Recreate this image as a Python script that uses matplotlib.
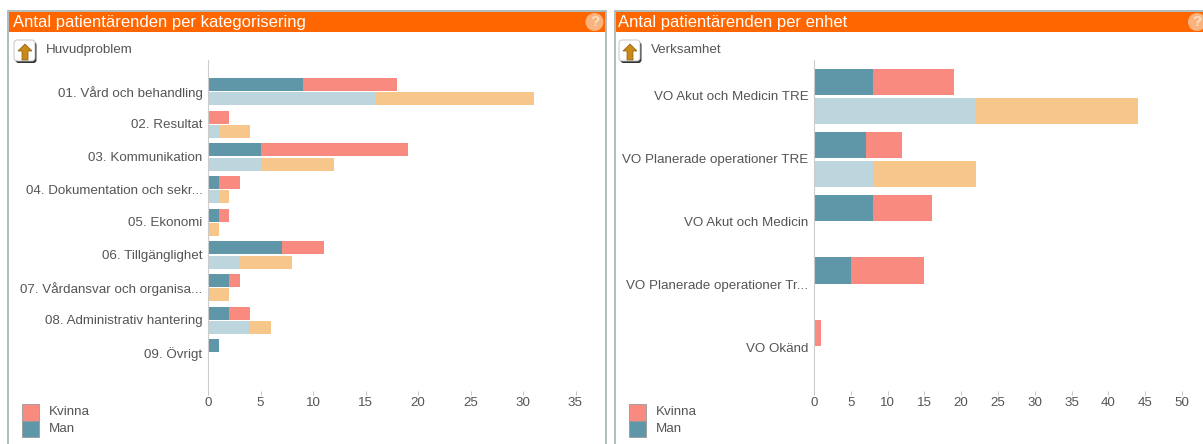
import numpy as np
import matplotlib
matplotlib.use('Agg')
import matplotlib.pyplot as plt
from matplotlib.patches import Rectangle, Circle, FancyBboxPatch, Polygon

plt.rcParams['font.family'] = ['Liberation Sans', 'DejaVu Sans']

# Data vänster panel
kategorier = ['01. Vård och behandling', '02. Resultat', '03. Kommunikation',
              '04. Dokumentation och sekr...', '05. Ekonomi', '06. Tillgänglighet',
              '07. Vårdansvar och organisa...', '08. Administrativ hantering', '09. Övrigt']
kat_man = [9, 0, 5, 1, 1, 7, 2, 2, 1]
kat_kvinna = [9, 2, 14, 2, 1, 4, 1, 2, 0]
kat_man_prev = [16, 1, 5, 1, 0, 3, 0, 4, 0]
kat_kvinna_prev = [15, 3, 7, 1, 1, 5, 2, 2, 0]

# Data höger panel
enheter = ['VO Akut och Medicin TRE', 'VO Planerade operationer TRE', 'VO Akut och Medicin',
           'VO Planerade operationer Tr...', 'VO Okänd']
enh_man = [8, 7, 8, 5, 0]
enh_kvinna = [11, 5, 8, 10, 1]
enh_man_prev = [22, 8, 0, 0, 0]
enh_kvinna_prev = [22, 14, 0, 0, 0]

W, H = 1203, 444
MAN = '#5f96a8'
KVINNA = '#f98a80'
MAN_L = '#bdd5dc'
KVINNA_L = '#f6c68a'
ORANGE = '#ff6600'
RAM = '#a3b1b1'
TEXT = '#555555'

fig = plt.figure(figsize=(W / 100, H / 100), dpi=100)
bg = fig.add_axes([0, 0, 1, 1])
bg.set_xlim(0, W)
bg.set_ylim(H, 0)
bg.axis('off')


def panel(x0, x1, titel, undertitel, dx):
    bg.add_patch(Rectangle((x0, 11), x1 - x0, H, fc='white', ec=RAM, lw=1.2))
    bg.add_patch(Rectangle((x0 + 1, 12), x1 - x0 - 2, 20, fc=ORANGE, ec='none'))
    bg.text(x0 + 5 - dx, 22.5, titel, color='white', fontsize=12, va='center', ha='left')
    # ikon med pil upp
    ix = x0 + 6 - dx
    bg.add_patch(FancyBboxPatch((ix + 1.5, 42), 21, 21, boxstyle='round,pad=0,rounding_size=3',
                                fc='#333333', ec='none'))
    bg.add_patch(FancyBboxPatch((ix, 40), 21, 21, boxstyle='round,pad=0,rounding_size=3',
                                fc='white', ec='#bbbbbb', lw=0.6))
    bg.add_patch(Polygon([(ix + 11, 44), (ix + 18, 51), (ix + 14, 51), (ix + 14, 60),
                          (ix + 8, 60), (ix + 8, 51), (ix + 4, 51)], fc='#c98a1a', ec='#8a5a10', lw=0.5))
    bg.text(x0 + 38 - dx, 50, undertitel, color=TEXT, fontsize=9.6, va='center', ha='left')
    # legend
    bg.add_patch(Rectangle((x0 + 14, 404), 17, 16.5, fc=KVINNA, ec='#999999', lw=0.6))
    bg.add_patch(Rectangle((x0 + 14, 420.5), 17, 16.5, fc=MAN, ec='#999999', lw=0.6))
    bg.text(x0 + 41, 412, 'Kvinna', color=TEXT, fontsize=9.6, va='center', ha='left')
    bg.text(x0 + 41, 428.5, 'Man', color=TEXT, fontsize=9.6, va='center', ha='left')


def diagram(px0, px1, xmax, steg, ylim, etiketter, man, kvinna, man_p, kvinna_p, hojd, off_a, off_b):
    ax = fig.add_axes([px0 / W, 1 - 391 / H, (px1 - px0) / W, (391 - 60) / H])
    ax.patch.set_alpha(0)
    y = np.arange(len(etiketter))
    man, kvinna, man_p, kvinna_p = map(np.array, (man, kvinna, man_p, kvinna_p))
    ax.barh(y + off_a, man, hojd, color=MAN)
    ax.barh(y + off_a, kvinna, hojd, left=man, color=KVINNA)
    ax.barh(y + off_b, man_p, hojd, color=MAN_L)
    ax.barh(y + off_b, kvinna_p, hojd, left=man_p, color=KVINNA_L)
    ax.set_xlim(0, xmax)
    ax.set_ylim(*ylim)
    ax.set_yticks(y)
    ax.set_yticklabels(etiketter, color=TEXT, fontsize=9.6)
    ax.set_xticks(np.arange(0, xmax + 1, steg))
    ax.tick_params(axis='y', length=0, pad=4)
    ax.tick_params(axis='x', length=3, width=0.6, color='#bbbbbb', labelcolor=TEXT, labelsize=9.6, pad=1)
    for s in ['top', 'right', 'bottom']:
        ax.spines[s].set_visible(False)
    ax.spines['left'].set_color('#cccccc')
    return ax


panel(8, 606, 'Antal patientärenden per kategorisering', 'Huvudproblem', 0)
panel(614.5, 1210, 'Antal patientärenden per enhet', 'Verksamhet', 1.5)

# frågetecken
bg.add_patch(Circle((594.5, 22), 9, fc='#fbb27c', ec='none'))
bg.text(594.5, 22, '?', color='#fde0c8', fontsize=11, fontweight='bold', ha='center', va='center')
bg.add_patch(Circle((1197, 22), 9, fc='#fbb27c', ec='none'))
bg.text(1197, 22, '?', color='#fde0c8', fontsize=11, fontweight='bold', ha='center', va='center')

diagram(208, 575.5, 35, 5, (9.18, -0.95), kategorier, kat_man, kat_kvinna, kat_man_prev, kat_kvinna_prev,
        0.40, -0.2, 0.24)
diagram(814, 1182, 50, 5, (4.7, -0.573), enheter, enh_man, enh_kvinna, enh_man_prev, enh_kvinna_prev,
        0.42, -0.22, 0.24)

fig.savefig('out.png', dpi=100)
